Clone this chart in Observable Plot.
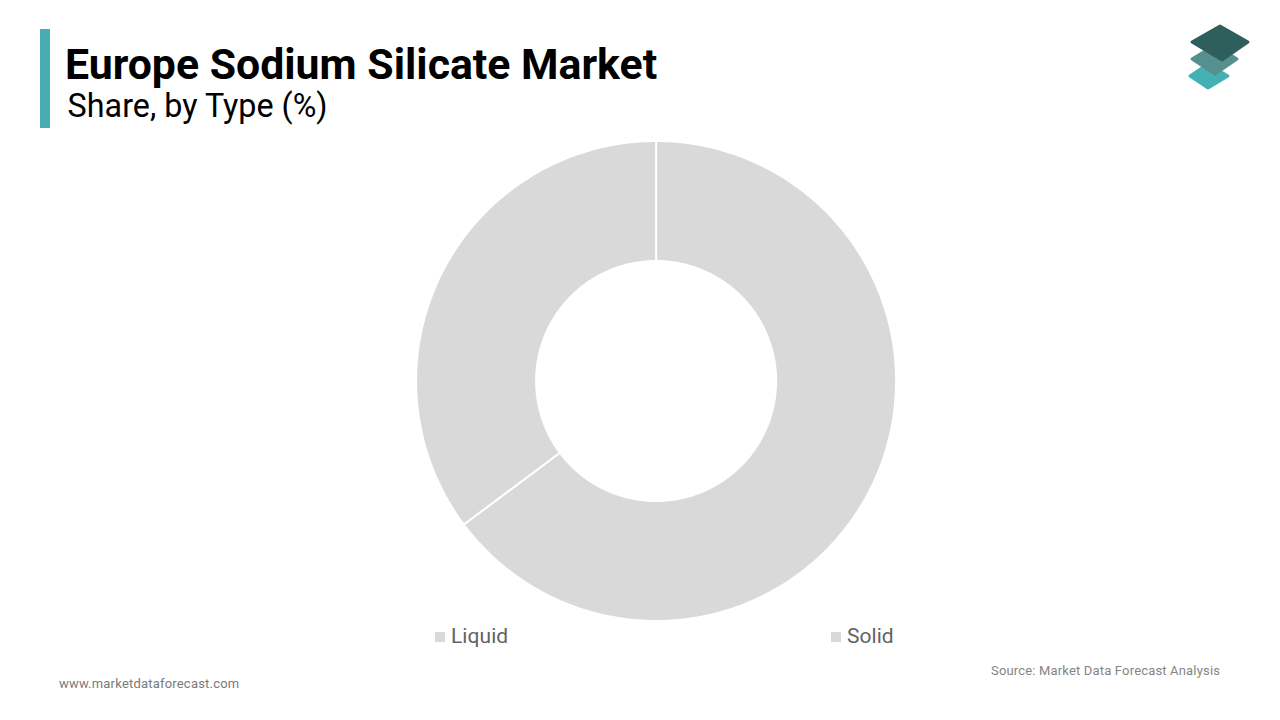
<!DOCTYPE html>
<html><head><meta charset="utf-8">
<script src="https://cdn.jsdelivr.net/npm/d3@7"></script>
<script src="https://cdn.jsdelivr.net/npm/@observablehq/plot@0.6"></script>
<style>
html,body{margin:0;padding:0;background:#fff;width:1280px;height:720px;overflow:hidden}
#c{position:absolute;left:0;top:0}
.t{position:absolute;font-family:Roboto,sans-serif;white-space:nowrap}
.sw{position:absolute;width:10px;height:10px;background:#d9d9d9}
</style></head><body>
<div id="c"></div>
<div class="t" style="left:40px;top:29px;width:10px;height:99px;background:#4bacb0"></div>
<div class="t" style="left:65px;top:38px;font-size:42.8px;font-weight:700;color:#000;line-height:52px">Europe Sodium Silicate Market</div>
<div class="t" style="left:67.6px;top:87px;font-size:32.3px;color:#000;line-height:38px">Share, by Type (%)</div>
<div class="sw" style="left:435px;top:632px"></div>
<div class="t" style="left:451px;top:623px;font-size:21px;letter-spacing:.05px;color:#636363;line-height:26px">Liquid</div>
<div class="sw" style="left:831px;top:632px"></div>
<div class="t" style="left:847px;top:623px;font-size:21px;letter-spacing:.05px;color:#636363;line-height:26px">Solid</div>
<div class="t" style="left:59px;top:675px;font-size:13px;letter-spacing:.2px;color:#7a7a7a;line-height:18px">www.marketdataforecast.com</div>
<div class="t" style="left:991px;top:662px;font-size:13px;letter-spacing:.17px;color:#858585;line-height:18px">Source: Market Data Forecast Analysis</div>
<svg style="position:absolute;left:1180px;top:15px" width="80" height="85" viewBox="1180 15 80 85">
  <g stroke-linejoin="round" stroke-width="3">
    <polygon points="1190,76 1208,64 1228,76 1208,88" fill="#43b0b4" stroke="#43b0b4"/>
    <polygon points="1192,59 1215,45 1237,59 1215,74" fill="#55908e" stroke="#55908e"/>
    <polygon points="1192,42 1220,26 1248,42 1222,60" fill="#2f5f5d" stroke="#2f5f5d"/>
  </g>
</svg>
<script>
const categories = ["Solid", "Liquid"];
const shares = [64.8, 35.2];
const sliceColors = ["#d9d9d9", "#d9d9d9"];

// Each slice is an annular sector on a polar azimuthal projection, so Plot's
// projection places it: longitude carries the share, colatitude the radius.
const outerLat = 30, innerLat = 60;
const pie = d3.pie().sort(null).value(d => d)(shares);
const slices = pie.map((p, i) => {
  const a0 = 180 - p.startAngle * 180 / Math.PI;
  const a1 = 180 - p.endAngle * 180 / Math.PI;
  const lons = d3.range(0, 1.0001, 1 / Math.max(2, Math.ceil(Math.abs(a1 - a0)))).map(d3.interpolateNumber(a0, a1));
  const ring = [
    ...lons.map(l => [l, outerLat]),
    ...lons.slice().reverse().map(l => [l, innerLat])
  ];
  ring.push(ring[0]);
  return {type: "Feature", properties: {category: categories[i], color: sliceColors[i]},
          geometry: {type: "Polygon", coordinates: [ring]}};
});

const projection = d3.geoAzimuthalEquidistant()
  .rotate([0, -90])
  .translate([655.6, 380.5])
  .scale(4 * 180 / Math.PI)
  .precision(0.1);

const chart = Plot.plot({
  width: 1280, height: 720, margin: 0,
  style: {background: "transparent"},
  projection,
  marks: [
    Plot.geo(slices, {fill: d => d.properties.color, stroke: "#fff", strokeWidth: 2, title: d => d.properties.category})
  ]
});
document.getElementById("c").appendChild(chart);
</script>
</body></html>
